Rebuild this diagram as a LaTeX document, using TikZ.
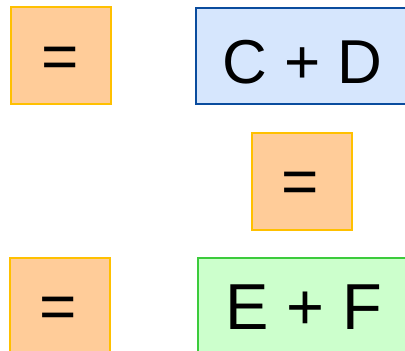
\documentclass[tikz,border=0pt]{standalone}
\usepackage{fontspec}
\setmainfont{Liberation Sans}
\definecolor{ofill}{HTML}{FFCC99}
\definecolor{oline}{HTML}{FFC000}
\definecolor{bfill}{HTML}{D6E6FD}
\definecolor{bline}{HTML}{0A4C9E}
\definecolor{gfill}{HTML}{CCFFCC}
\definecolor{gline}{HTML}{3CCB3C}
\begin{document}
\begin{tikzpicture}[x=1pt,y=-1pt,
  box/.style={draw, line width=2pt, inner sep=0pt, anchor=north west},
  obox/.style={box, fill=ofill, draw=oline, minimum width=100pt, minimum height=97pt},
  eqtxt/.style={font=\fontsize{64}{64}\selectfont, inner sep=0pt, anchor=base},
  bigtxt/.style={inner sep=0pt, anchor=base}]
\useasboundingbox (0,0) rectangle (405,351);
\clip (0,0) rectangle (405,351);
% boxes
\node[obox] (b1) at (10,6) {};
\node[box, fill=bfill, draw=bline, minimum width=216pt, minimum height=96pt] (b2) at (194.5,6.5) {};
\node[obox] (b3) at (250.5,131.5) {};
\node[obox] (b4) at (8.5,256.5) {};
\node[box, fill=gfill, draw=gline, minimum width=216pt, minimum height=97pt] (b5) at (196.5,256.5) {};
% texts
\node[eqtxt] (t1) at (60.3,78.1) {=};
\node[eqtxt] (t3) at (300.5,203.4) {=};
\node[eqtxt] (t4) at (58.5,328.4) {=};
\node[bigtxt, font=\fontsize{62}{62}\selectfont] (t2) at (302.5,83.5) {C + D};
\node[bigtxt, font=\fontsize{65}{65}\selectfont] (t5) at (303.7,329) {E + F};
\end{tikzpicture}
\end{document}
